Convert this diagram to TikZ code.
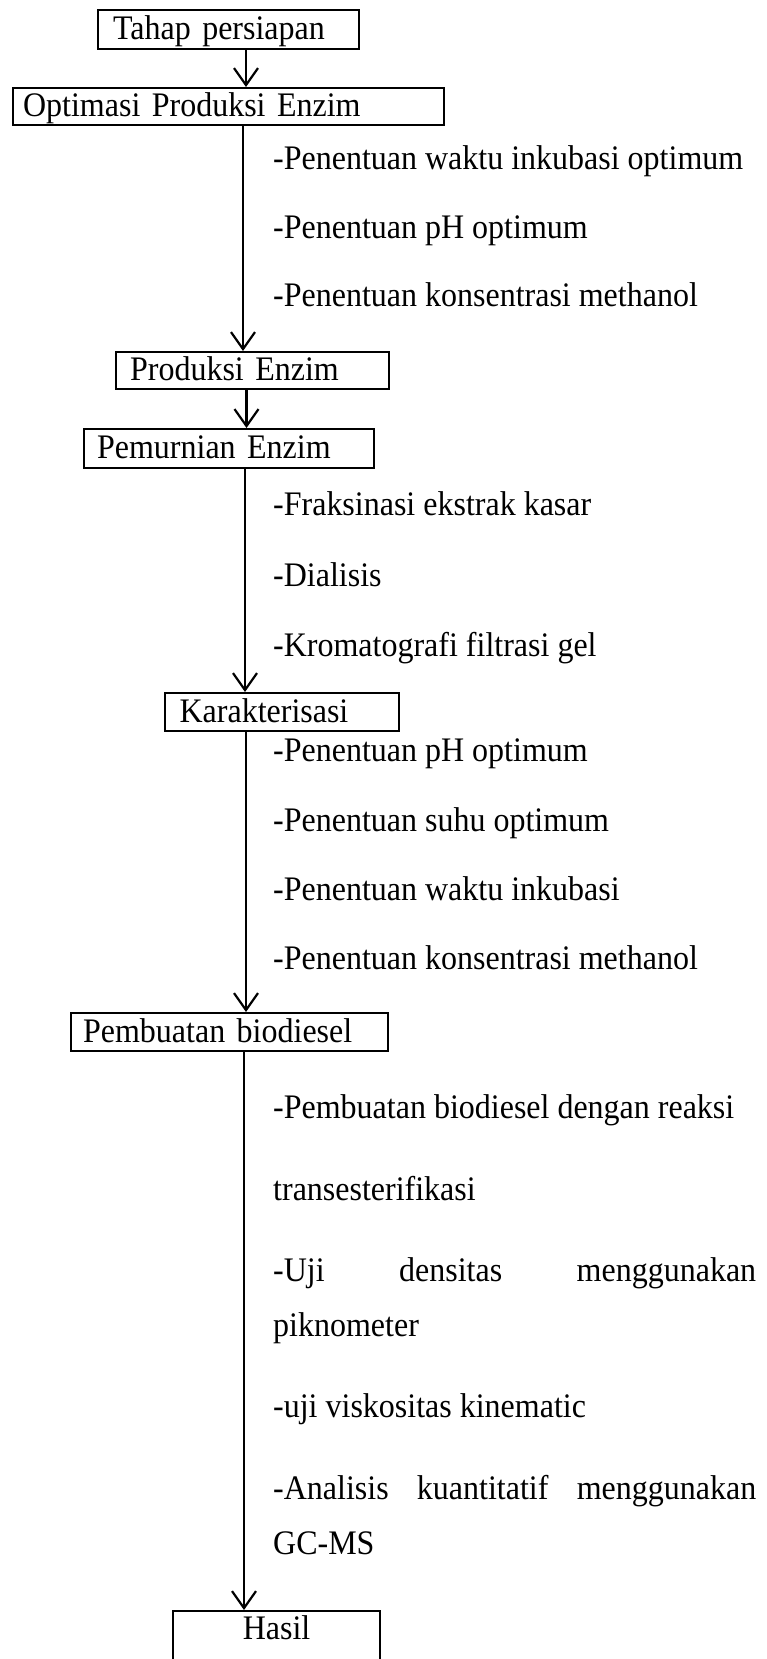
\documentclass[tikz,border=0pt]{standalone}
\usepackage{fontspec}
\setmainfont{Liberation Serif}[FakeStretch=0.93]
\usetikzlibrary{arrows.meta}
\begin{document}
\begin{tikzpicture}[x=1pt,y=-1pt,
  every node/.style={font=\fontsize{34.4}{40}\selectfont},
  box/.style={draw, line width=2.2pt, rectangle, anchor=north west, inner ysep=0pt,
              text height=24pt, text depth=4pt},
  item/.style={anchor=base west, inner sep=0pt},
  arr/.style={line width=2.2pt, -{Straight Barb[length=17pt,width=24pt]}}]
\useasboundingbox[fill=white] (0,0) rectangle (767,1659);

% boxes
\node[box, text width=231pt, inner xsep=15pt, minimum height=39pt] (tahap) at (97,9) {\mbox{Tahap persiapan}\hfill};
\node[box, text width=411pt, inner xsep=10pt, minimum height=37pt] (optimasi) at (12,87) {\mbox{Optimasi Produksi Enzim}\hfill};
\node[box, text width=245pt, inner xsep=14pt, minimum height=37pt] (produksi) at (115,351) {\mbox{Produksi Enzim}\hfill};
\node[box, text width=264pt, inner xsep=13pt, minimum height=39pt] (pemurnian) at (83,428) {\mbox{Pemurnian Enzim}\hfill};
\node[box, text width=205pt, inner xsep=14.5pt, minimum height=38pt] (karakter) at (164,692) {\mbox{Karakterisasi}\hfill};
\node[box, text width=293pt, inner xsep=12pt, minimum height=38pt] (pembuatan) at (70,1012) {\mbox{Pembuatan biodiesel}\hfill};
\node[box, text width=207pt, inner xsep=0pt, minimum height=100pt, align=center, text depth=68pt] (hasil) at (172,1610) {Hasil};

% step texts
\node[item] (o1) at (273,169) {-Penentuan waktu inkubasi optimum};
\node[item] (o2) at (273,238) {-Penentuan pH optimum};
\node[item] (o3) at (273,306) {-Penentuan konsentrasi methanol};
\node[item] (p1) at (273,515) {-Fraksinasi ekstrak kasar};
\node[item] (p2) at (273,586) {-Dialisis};
\node[item] (p3) at (273,656) {-Kromatografi filtrasi gel};
\node[item] (k1) at (273,761) {-Penentuan pH optimum};
\node[item] (k2) at (273,831) {-Penentuan suhu optimum};
\node[item] (k3) at (273,900) {-Penentuan waktu inkubasi};
\node[item] (k4) at (273,969) {-Penentuan konsentrasi methanol};
\node[item] (b1) at (273,1118) {-Pembuatan biodiesel dengan reaksi};
\node[item] (b2) at (273,1200) {transesterifikasi};
\node[item] (b3) at (273,1281) {\makebox[483pt][s]{-Uji densitas menggunakan}};
\node[item] (b4) at (273,1336) {piknometer};
\node[item] (b5) at (273,1417) {-uji viskositas kinematic};
\node[item] (b6) at (273,1499) {\makebox[483pt][s]{-Analisis kuantitatif menggunakan}};
\node[item] (b7) at (273,1554) {GC-MS};

% connectors
\coordinate (a1) at (246,0);
\coordinate (a2) at (243,0);
\coordinate (a3) at (246.5,0);
\coordinate (a4) at (245,0);
\coordinate (a5) at (246,0);
\coordinate (a6) at (244,0);
\draw[arr] (tahap.south -| a1) -- (optimasi.north -| a1);
\draw[arr] (optimasi.south -| a2) -- (produksi.north -| a2);
\draw[arr] (produksi.south -| a3) -- (pemurnian.north -| a3);
\draw[arr] (pemurnian.south -| a4) -- (karakter.north -| a4);
\draw[arr] (karakter.south -| a5) -- (pembuatan.north -| a5);
\draw[arr] (pembuatan.south -| a6) -- (hasil.north -| a6);
\end{tikzpicture}
\end{document}
